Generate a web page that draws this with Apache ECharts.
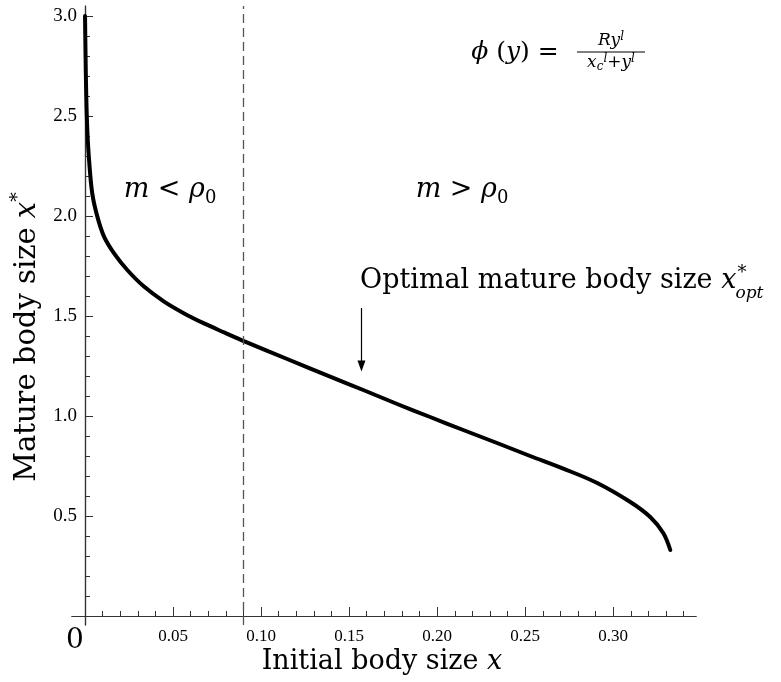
<!DOCTYPE html>
<html>
<head>
<meta charset="UTF-8"/>
<script src="https://cdn.jsdelivr.net/npm/echarts@6/dist/echarts.min.js"></script>
<style>
  html, body { margin: 0; padding: 0; background: #fff; }
  #main { width: 781px; height: 682px; }
</style>
</head>
<body>
<div id="main"></div>
<script>
// curve: initial size x -> optimal mature size x*
var curveX = [0, 0.0003, 0.0007, 0.0013, 0.0023, 0.0041, 0.0070, 0.0108, 0.0165, 0.0240,
              0.0335, 0.0449, 0.0563, 0.0676, 0.0790, 0.0909, 0.1148, 0.1392, 0.158, 0.1773,
              0.196, 0.2148, 0.234, 0.2528, 0.2716, 0.2909, 0.3097, 0.321, 0.3284, 0.3324];
var curveY = [3.0, 2.8, 2.6, 2.43, 2.28, 2.113, 1.997, 1.897, 1.813, 1.73,
              1.647, 1.572, 1.513, 1.463, 1.418, 1.372, 1.285, 1.197, 1.13, 1.06,
              0.995, 0.93, 0.865, 0.80, 0.737, 0.665, 0.57, 0.495, 0.415, 0.33];

var xMajorTicks = [0.05, 0.10, 0.15, 0.20, 0.25, 0.30];
var xMinorTicks = [0.01, 0.02, 0.03, 0.04, 0.06, 0.07, 0.08, 0.09, 0.11, 0.12, 0.13, 0.14,
                   0.16, 0.17, 0.18, 0.19, 0.21, 0.22, 0.23, 0.24, 0.26, 0.27, 0.28, 0.29,
                   0.31, 0.32, 0.33, 0.34];
var yMajorTicks = [0.5, 1.0, 1.5, 2.0, 2.5, 3.0];
var yMinorTicks = [0.1, 0.2, 0.3, 0.4, 0.6, 0.7, 0.8, 0.9, 1.1, 1.2, 1.3, 1.4,
                   1.6, 1.7, 1.8, 1.9, 2.1, 2.2, 2.3, 2.4, 2.6, 2.7, 2.8, 2.9];

var boundaryX = 0.0912;       // dashed line m = rho0
var arrowX = 0.157;
var arrowY = [1.54, 1.25];    // arrow from / to

var serif = '"DejaVu Serif", serif';
var times = '"Liberation Serif", serif';
var axisColor = '#333';

var myChart = echarts.init(document.getElementById('main'));

function xAxisOf(ticks, len, labels) {
    return {
        type: 'value', gridIndex: 0, position: 'bottom',
        min: -0.0074, max: 0.347,
        axisLine: { show: true, onZero: true, onZeroAxisIndex: 0, lineStyle: { color: axisColor, width: 1.2 } },
        axisTick: { show: true, inside: true, length: len, customValues: ticks, lineStyle: { color: axisColor, width: 1 } },
        axisLabel: {
            show: !!labels, customValues: labels || [], margin: 3,
            fontFamily: times, fontSize: 17, color: '#000',
            formatter: function (v) { return v.toFixed(2); }
        },
        splitLine: { show: false }
    };
}
function yAxisOf(ticks, len, labels) {
    return {
        type: 'value', gridIndex: 0, position: 'left',
        min: -0.045, max: 3.05,
        axisLine: { show: true, onZero: true, onZeroAxisIndex: 0, lineStyle: { color: axisColor, width: 1.2 } },
        axisTick: { show: true, inside: true, length: len, customValues: ticks, lineStyle: { color: axisColor, width: 1 } },
        axisLabel: {
            show: !!labels, customValues: labels || [], margin: -5,
            fontFamily: times, fontSize: 19, color: '#000',
            formatter: function (v) { return v.toFixed(1); }
        },
        splitLine: { show: false }
    };
}

// widths for placing the * and opt of x*_opt
var ctx = document.createElement('canvas').getContext('2d');
ctx.font = '27px ' + serif;
var wMain = ctx.measureText('Optimal mature body size ').width;
ctx.font = 'italic 27px ' + serif;
var wX = ctx.measureText('x').width;
var optLeft = 360;

var rich = {
    i: { fontStyle: 'italic', fontFamily: serif, fontSize: 27, lineHeight: 34, fill: '#000' },
    sub: { fontFamily: serif, fontSize: 18, lineHeight: 22, verticalAlign: 'bottom', fill: '#000' },
    sup: { fontFamily: serif, fontSize: 18, lineHeight: 18, verticalAlign: 'top', fill: '#000' }
};
var richY = {
    i: { fontStyle: 'italic', fontFamily: serif, fontSize: 29, lineHeight: 36, fill: '#000' },
    sup: { fontFamily: serif, fontSize: 19, lineHeight: 19, verticalAlign: 'top', fill: '#000' }
};
var richFrac = {
    i: { fontStyle: 'italic', fontFamily: serif, fontSize: 17, lineHeight: 20, fill: '#000' },
    b: { fontStyle: 'italic', fontFamily: serif, fontSize: 12, lineHeight: 12, verticalAlign: 'bottom', fill: '#000' },
    s: { fontStyle: 'italic', fontFamily: serif, fontSize: 12, lineHeight: 12, verticalAlign: 'top', fill: '#000' }
};

var option = {
    animation: false,
    grid: { left: 72, right: 85, top: 6, bottom: 57, containLabel: false, outerBoundsMode: 'none' },
    xAxis: [xAxisOf(xMinorTicks, 5), xAxisOf(xMajorTicks, 9, xMajorTicks)],
    yAxis: [yAxisOf(yMinorTicks, 5), yAxisOf(yMajorTicks, 8, yMajorTicks)],
    series: [{
        type: 'line',
        xAxisIndex: 0, yAxisIndex: 0,
        data: curveX.map(function (x, i) { return [x, curveY[i]]; }),
        showSymbol: false, smooth: 0.35, silent: true,
        lineStyle: { color: '#000', width: 4, cap: 'round', join: 'round' },
        markLine: {
            silent: true, symbol: 'none', label: { show: false },
            data: [
                { xAxis: boundaryX, lineStyle: { type: [9, 5], color: '#555', width: 1.3 } },
                [
                    { coord: [arrowX, arrowY[0]], symbol: 'none', lineStyle: { type: 'solid', color: '#000', width: 1.2 } },
                    { coord: [arrowX, arrowY[1]], symbol: 'triangle', symbolSize: [8, 11] }
                ]
            ]
        }
    }],
    graphic: [
        {   // y axis title
            type: 'text', x: 27, y: 337, rotation: Math.PI / 2,
            style: {
                text: 'Mature body size {i|x}{sup|*}', rich: richY,
                fontFamily: serif, fontSize: 29, lineHeight: 36, fill: '#000',
                align: 'center', verticalAlign: 'middle'
            }
        },
        {   // x axis title
            type: 'text', x: 382, y: 662,
            style: {
                text: 'Initial body size {i|x}', rich: rich,
                fontFamily: serif, fontSize: 27, lineHeight: 34, fill: '#000',
                align: 'center', verticalAlign: 'middle'
            }
        },
        {
            type: 'text', x: 75, y: 641,
            style: { text: '0', fontFamily: serif, fontSize: 28, fill: '#000', align: 'center', verticalAlign: 'middle' }
        },
        {
            type: 'text', x: 170, y: 190,
            style: {
                text: '{i|m} < {i|ρ}{sub|0}', rich: rich,
                fontFamily: serif, fontSize: 27, lineHeight: 34, fill: '#000',
                align: 'center', verticalAlign: 'middle'
            }
        },
        {
            type: 'text', x: 462, y: 190,
            style: {
                text: '{i|m} > {i|ρ}{sub|0}', rich: rich,
                fontFamily: serif, fontSize: 27, lineHeight: 34, fill: '#000',
                align: 'center', verticalAlign: 'middle'
            }
        },
        {
            type: 'text', x: optLeft, y: 281,
            style: {
                text: 'Optimal mature body size {i|x}', rich: rich,
                fontFamily: serif, fontSize: 27, lineHeight: 34, fill: '#000',
                align: 'left', verticalAlign: 'middle'
            }
        },
        {
            type: 'text', x: optLeft + wMain + wX + 1, y: 273,
            style: { text: '*', fontFamily: serif, fontSize: 18, fill: '#000', align: 'left', verticalAlign: 'middle' }
        },
        {
            type: 'text', x: optLeft + wMain + wX - 1, y: 294,
            style: { text: 'opt', fontFamily: serif, fontSize: 17, fontStyle: 'italic', fill: '#000', align: 'left', verticalAlign: 'middle' }
        },
        // formula phi(y) = R y^l / (x_c^l + y^l)
        {
            type: 'text', x: 515, y: 52,
            style: { text: '{i|ϕ} ({i|y}) =', rich: {
                        i: { fontStyle: 'italic', fontFamily: serif, fontSize: 25, lineHeight: 30, fill: '#000' } },
                     fontFamily: serif, fontSize: 25, lineHeight: 30, fill: '#000', align: 'center', verticalAlign: 'middle' }
        },
        {
            type: 'text', x: 611, y: 41,
            style: { text: '{i|Ry}{s|l}', rich: richFrac, align: 'center', verticalAlign: 'middle' }
        },
        {
            type: 'line', shape: { x1: 577, y1: 52, x2: 645, y2: 52 },
            style: { stroke: '#000', lineWidth: 1 }
        },
        {
            type: 'text', x: 611, y: 63,
            style: { text: '{i|x}{b|c}{s|l}+{i|y}{s|l}', rich: richFrac,
                     fontFamily: serif, fontSize: 17, lineHeight: 20, fill: '#000', align: 'center', verticalAlign: 'middle' }
        }
    ]
};
myChart.setOption(option);
</script>
</body>
</html>
